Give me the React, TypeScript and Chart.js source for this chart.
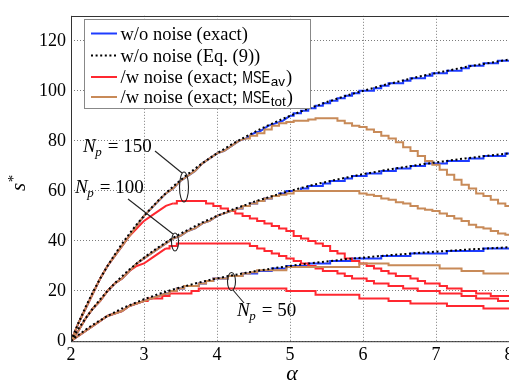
import React, { useEffect, useRef } from "react";
import { Chart, registerables } from "chart.js";
Chart.register(...registerables);

const ALPHA = [2.0,2.1,2.2,2.3,2.4,2.5,2.6,2.7,2.8,2.9,3.0,3.1,3.2,3.3,3.4,3.5,3.6,3.7,3.8,3.9,4.0,4.1,4.2,4.3,4.4,4.5,4.6,4.7,4.8,4.9,5.0,5.1,5.2,5.3,5.4,5.5,5.6,5.7,5.8,5.9,6.0,6.1,6.2,6.3,6.4,6.5,6.6,6.7,6.8,6.9,7.0,7.1,7.2,7.3,7.4,7.5,7.6,7.7,7.8,7.9,8.0];

const EQ9_150 = [0,7.1,13.6,19.6,25.0,30.0,34.6,38.9,42.9,46.6,50.0,53.2,56.3,59.1,61.8,64.3,66.7,68.9,71.1,73.1,75.0,76.8,78.6,80.2,81.8,83.3,84.8,86.2,87.5,88.8,90.0,91.2,92.3,93.4,94.4,95.5,96.4,97.4,98.3,99.2,100.0,100.8,101.6,102.4,103.1,103.8,104.5,105.2,105.9,106.5,107.1,107.7,108.3,108.9,109.5,110.0,110.5,111.0,111.5,112.0,112.5];
const EXACT_150 = [0,7,13,19,25,30,34,38,42,46,50,53,56,59,61,64,66,68,71,73,75,76,78,80,81,83,84,86,87,88,90,91,92,93,94,95,96,97,98,99,100,100,101,102,103,103,104,105,105,106,107,107,108,108,109,110,110,111,111,112,112];
const EQ9_100 = [0,4.8,9.1,13.0,16.7,20.0,23.1,25.9,28.6,31.0,33.3,35.5,37.5,39.4,41.2,42.9,44.4,45.9,47.4,48.7,50.0,51.2,52.4,53.5,54.5,55.6,56.5,57.4,58.3,59.2,60.0,60.8,61.5,62.3,63.0,63.6,64.3,64.9,65.5,66.1,66.7,67.2,67.7,68.3,68.8,69.2,69.7,70.1,70.6,71.0,71.4,71.8,72.2,72.6,73.0,73.3,73.7,74.0,74.4,74.7,75.0];
const EXACT_100 = [0,4,9,13,16,20,23,25,28,31,33,35,37,39,41,42,44,45,47,48,50,51,52,53,54,55,56,57,58,59,60,60,61,62,62,63,64,64,65,66,66,67,67,68,68,69,69,70,70,71,71,71,72,72,72,73,73,74,74,74,75];
const EQ9_50 = [0,2.4,4.5,6.5,8.3,10.0,11.5,13.0,14.3,15.5,16.7,17.7,18.8,19.7,20.6,21.4,22.2,23.0,23.7,24.4,25.0,25.6,26.2,26.7,27.3,27.8,28.3,28.7,29.2,29.6,30.0,30.4,30.8,31.1,31.5,31.8,32.1,32.5,32.8,33.1,33.3,33.6,33.9,34.1,34.4,34.6,34.8,35.1,35.3,35.5,35.7,35.9,36.1,36.3,36.5,36.7,36.8,37.0,37.2,37.3,37.5];
const EXACT_50 = [0,2,4,6,8,10,11,12,14,15,16,17,18,19,20,21,22,22,23,24,25,25,26,26,27,27,28,28,29,29,30,30,30,31,31,31,32,32,32,33,33,33,33,34,34,34,34,35,35,35,35,35,36,36,36,36,36,37,37,37,37];

const MSEAV_150 = [0,7,13,19,25,30,34,38,42,45,48,50,52,54,55,56,56,56,56,55,54,53,52,51,50,49,48,47,46,45,44,42,41,40,39,38,36,35,33,32,31,30,29,28,27,26,26,25,24,23,23,22,21,21,20,20,19,19,18,18,18];
const MSEAV_100 = [0,4,9,13,16,20,23,25,28,30,31,33,35,37,38,39,39,39,39,39,39,39,39,39,39,38,37,36,35,34,33,32,31,30,29,28,28,27,26,25,25,24,23,23,22,22,21,21,20,20,20,19,19,19,18,18,17,17,17,16,16];
const MSEAV_50 = [0,2,4,6,8,10,11,12,14,15,16,17,17,18,19,19,19,20,21,21,21,21,21,21,21,21,21,21,21,21,20,20,20,20,18.5,18.5,18.5,18.5,18.5,18.5,17,17,17,17,16,16,16,15,15,15,15,15,14,14,14,14,14,13,13,13,13];

const MSETOT_150 = [0,7,13,19,25,30,34,38,42,46,50,53,56,59,61,64,66,68,71,73,75,76,78,80,81,82,83,84.5,86,87,87.5,88,88,88.5,89,89,89,88,87,86,85.5,84.5,83.5,82,81,79.5,77.5,76,74,72,70.5,68.5,66.5,64.5,62.5,61,59,58,56.5,55,54];
const MSETOT_100 = [0,4,9,13,16,20,23,25,28,31,33,35,37,39,41,42,44,45,47,48,50,51,52,53,54,55,56,57,58,58.5,59,60,60,60,60,60,60,60,60,60,59,58.5,58,57,56.5,55.5,55,54,53,52.5,52,51,50,49,48,46.5,45.5,45,44,43,42.5];
const MSETOT_50 = [0,2,4,6,8,10,11,12,14,15,16,17,18,19,20,21,22,22,23,24,25,25,26,26,27,27.5,28.3,28.3,28.3,28.3,29.6,29.6,29.6,29.6,29.6,29.6,29.6,29.6,29.6,29.6,31,31,31,31,30.3,30.3,30.3,30.3,30.3,30.3,30.3,29,29,29,28,28,28,27,27,27,27];

const LEGEND_LABELS = ["w/o noise (exact)", "w/o noise (Eq. (9))", "/w noise (exact; ", "/w noise (exact; "];
const LEGEND_MSE = ["", "", "MSE", "MSE"];
const LEGEND_SUBS = ["", "", "av", "tot"];
const NP_LABELS = ["150", "100", "50"];
const Y_TITLE = "s";
const X_TITLE = "α";

const BLUE = "rgb(30,60,255)";
const RED = "rgb(255,40,48)";
const ORANGE = "rgb(200,138,88)";
const SERIF = '"Liberation Serif", "Times New Roman", serif';
const SANS = '"Liberation Sans", Arial, sans-serif';

export default function App() {
  const ref = useRef<HTMLCanvasElement>(null);
  useEffect(() => {
    const toXY = (ys: number[]) => ALPHA.map((x, i) => ({ x, y: ys[i] }));
    const dotted = (ys: number[]) => ({
      label: "w/o noise (Eq. (9))", data: toXY(ys), borderColor: "#000", borderWidth: 2,
      borderDash: [2, 2.6], pointRadius: 0, fill: false, tension: 0,
    });
    // steep part drawn as a plain line, the rest as a staircase
    const stair = (label: string, ys: number[], color: string, stepFrom: number) => {
      const pts = toXY(ys);
      const base = { label, borderColor: color, borderWidth: 2, pointRadius: 0, fill: false };
      return [
        { ...base, data: pts.filter((p) => p.x <= stepFrom + 1e-9), stepped: false },
        { ...base, data: pts.filter((p) => p.x >= stepFrom - 1e-9), stepped: "middle" as const },
      ];
    };
    const overlay = {
      id: "overlay",
      afterDraw(chart: any) {
        const { ctx, chartArea: a } = chart;
        ctx.save();
        ctx.strokeStyle = "#333";
        ctx.lineWidth = 1;
        ctx.setLineDash([]);
        ctx.strokeRect(Math.round(a.left) + 0.5, Math.round(a.top) + 0.5, a.right - a.left, a.bottom - a.top);

        // legend
        const lx = 84.5, ly = 19.5, lw = 226, lh = 89;
        ctx.fillStyle = "#fff";
        ctx.fillRect(lx, ly, lw, lh);
        ctx.strokeStyle = "#888";
        ctx.strokeRect(lx, ly, lw, lh);
        const rows = [33.5, 55.5, 77, 97];
        const cols = [BLUE, "#000", RED, ORANGE];
        rows.forEach((ry, i) => {
          ctx.beginPath();
          ctx.strokeStyle = cols[i];
          ctx.lineWidth = 2;
          ctx.setLineDash(i === 1 ? [2, 2.6] : []);
          ctx.moveTo(91, ry);
          ctx.lineTo(117, ry);
          ctx.stroke();
          ctx.setLineDash([]);
          ctx.fillStyle = "#000";
          ctx.textBaseline = "alphabetic";
          ctx.textAlign = "left";
          ctx.font = `18.5px ${SERIF}`;
          const base = ry + 6;
          let x = 120.5;
          ctx.fillText(LEGEND_LABELS[i], x, base);
          x += ctx.measureText(LEGEND_LABELS[i]).width;
          if (LEGEND_MSE[i]) {
            ctx.font = `16.5px ${SANS}`;
            const mw = ctx.measureText(LEGEND_MSE[i]).width * 0.78;
            ctx.save();
            ctx.translate(x, base);
            ctx.scale(0.78, 1);
            ctx.fillText(LEGEND_MSE[i], 0, 0);
            ctx.restore();
            x += mw + 0.5;
            ctx.font = `13.5px ${SANS}`;
            ctx.fillText(LEGEND_SUBS[i], x, base + 3);
            x += ctx.measureText(LEGEND_SUBS[i]).width + 1;
            ctx.font = `18.5px ${SERIF}`;
            ctx.fillText(")", x, base);
          }
        });

        // Np annotations
        const drawNp = (x: number, base: number, num: string) => {
          ctx.fillStyle = "#000";
          ctx.font = `italic 19px ${SERIF}`;
          ctx.fillText("N", x, base);
          let cx = x + ctx.measureText("N").width - 0.5;
          ctx.font = `italic 13px ${SERIF}`;
          ctx.fillText("p", cx, base + 4);
          cx += ctx.measureText("p").width + 6;
          ctx.font = `19px ${SERIF}`;
          ctx.fillText("= " + num, cx, base);
        };
        drawNp(83, 152, NP_LABELS[0]);
        drawNp(75, 193, NP_LABELS[1]);
        drawNp(237, 316, NP_LABELS[2]);

        ctx.strokeStyle = "#222";
        ctx.lineWidth = 1.1;
        const seg = (x1: number, y1: number, x2: number, y2: number) => {
          ctx.beginPath(); ctx.moveTo(x1, y1); ctx.lineTo(x2, y2); ctx.stroke();
        };
        const ell = (cx: number, cy: number, rx: number, ry: number) => {
          ctx.beginPath(); ctx.ellipse(cx, cy, rx, ry, 0, 0, Math.PI * 2); ctx.stroke();
        };
        seg(155, 151, 182, 173);
        ell(184, 187, 4.5, 15);
        seg(128, 199, 173, 234);
        ell(175, 242, 3.5, 9);
        seg(244, 303, 233, 290);
        ell(231.5, 281.5, 4, 9);

        // axis titles
        ctx.fillStyle = "#000";
        ctx.save();
        ctx.translate(25, 191);
        ctx.rotate(-Math.PI / 2);
        ctx.font = `italic 21px ${SERIF}`;
        ctx.textAlign = "left";
        ctx.fillText(Y_TITLE, 0, 0);
        const sw = ctx.measureText(Y_TITLE).width;
        ctx.font = `15px ${SERIF}`;
        ctx.fillText("*", sw + 0.5, -7);
        ctx.restore();

        ctx.font = `italic 22px ${SERIF}`;
        ctx.textAlign = "center";
        ctx.fillText(X_TITLE, 292, 380);
        ctx.restore();
      },
    };

    const chart = new Chart(ref.current!, {
      type: "line",
      data: {
        datasets: [
          dotted(EQ9_150), dotted(EQ9_100), dotted(EQ9_50),
          ...stair("MSEtot 150", MSETOT_150, ORANGE, 4.4),
          ...stair("MSEtot 100", MSETOT_100, ORANGE, 4.3),
          ...stair("MSEtot 50", MSETOT_50, ORANGE, 3.3),
          ...stair("MSEav 150", MSEAV_150, RED, 3.4),
          ...stair("MSEav 100", MSEAV_100, RED, 3.3),
          ...stair("MSEav 50", MSEAV_50, RED, 3.0),
          ...stair("exact 150", EXACT_150, BLUE, 5.0),
          ...stair("exact 100", EXACT_100, BLUE, 4.3),
          ...stair("exact 50", EXACT_50, BLUE, 3.3),
        ] as any,
      },
      options: {
        animation: false,
        responsive: false,
        devicePixelRatio: 1,
        layout: { padding: { left: 0, top: 9, right: 11, bottom: 0 } },
        plugins: { legend: { display: false }, tooltip: { enabled: false } },
        scales: {
          x: {
            type: "linear", min: 2, max: 8,
            ticks: { stepSize: 1, color: "#000", font: { family: SERIF, size: 18 }, padding: 3 },
            grid: { color: "rgba(110,110,110,0.9)", lineWidth: 1, drawTicks: false },
            border: { display: false, dash: [1, 2] },
            afterFit: (s: any) => { s.height = 42; },
          },
          y: {
            type: "linear", min: 0, max: 130,
            ticks: { stepSize: 20, color: "#000", font: { family: SERIF, size: 18 }, padding: 5 },
            grid: { color: "rgba(110,110,110,0.9)", lineWidth: 1, drawTicks: false },
            border: { display: false, dash: [1, 2] },
            afterBuildTicks: (s: any) => { s.ticks = s.ticks.filter((t: any) => t.value <= 120); },
            afterFit: (s: any) => { s.width = 71; },
          },
        },
      } as any,
      plugins: [overlay],
    });
    return () => chart.destroy();
  }, []);
  return (
    <div style={{ position: "fixed", left: 0, top: 0, width: 520, height: 383, background: "#fff" }}>
      <canvas ref={ref} width={520} height={383} style={{ display: "block" }} />
    </div>
  );
}
